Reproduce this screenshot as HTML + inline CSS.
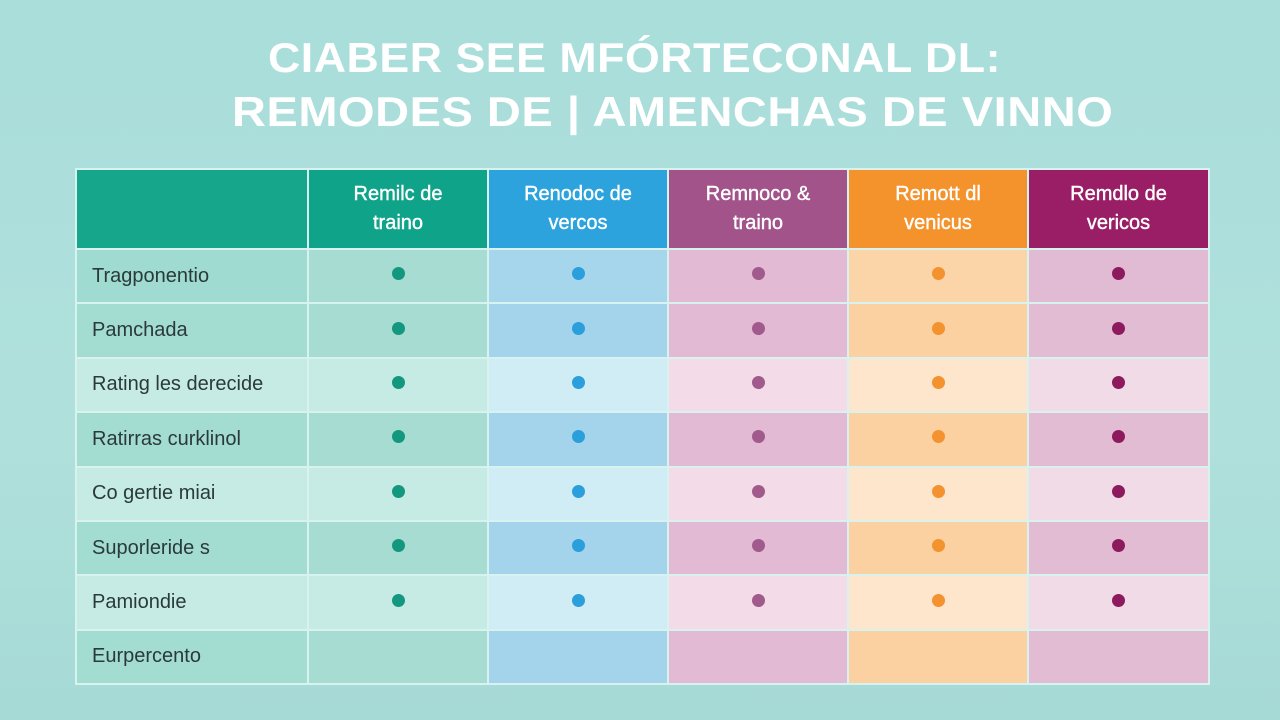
<!DOCTYPE html>
<html><head><meta charset="utf-8"><style>
body{margin:0;width:1280px;height:720px;overflow:hidden;background:linear-gradient(180deg,#a9dedb,#b0e0dc 60%,#a6dad6);font-family:"Liberation Sans",sans-serif;position:relative}
.t{position:absolute;color:#fff;font-weight:bold;font-size:42px;white-space:nowrap;letter-spacing:0.5px;transform-origin:left top}
table{position:absolute;left:75px;top:168px;border-collapse:collapse;table-layout:fixed;width:1133px}
td{border:2px solid #d8f2ef;padding:0;text-align:center;height:52.4px}
th{border:2px solid #d8f2ef;color:#fff;font-size:20px;line-height:29px;height:76px;font-weight:normal;-webkit-text-stroke:0.4px #fff}
td.l{text-align:left;padding-left:15px;font-size:20px;color:#2a3a3a}
.d{display:inline-block;width:13px;height:13px;border-radius:50%}
</style></head><body>
<div class="t" style="left:268px;top:34px;transform:scaleX(1.064)">CIABER SEE MFÓRTECONAL DL:</div>
<div class="t" style="left:232px;top:88px;transform:scaleX(1.118)">REMODES DE | AMENCHAS DE VINNO</div>
<table>
<colgroup><col style="width:232px"><col style="width:180px"><col style="width:180px"><col style="width:180px"><col style="width:180px"><col style="width:181px"></colgroup>
<tr><th style="background:#16a68c"></th>
<th style="background:#0fa38a">Remilc de<br>traino</th>
<th style="background:#2ca3dd">Renodoc de<br>vercos</th>
<th style="background:#a2538a">Remnoco &amp;<br>traino</th>
<th style="background:#f4922c">Remott dl<br>venicus</th>
<th style="background:#9a1e66">Remdlo de<br>vericos</th></tr>
<tr><td class="l" style="background:#9fdbd0">Tragponentio</td><td style="background:#a6dcd2"><span class="d" style="background:#13987f"></span></td><td style="background:#a6d6ec"><span class="d" style="background:#2b9fdc"></span></td><td style="background:#e2bad4"><span class="d" style="background:#a05a8c"></span></td><td style="background:#fbd5a8"><span class="d" style="background:#f3922e"></span></td><td style="background:#e1bbd3"><span class="d" style="background:#8e1a5e"></span></td></tr>
<tr><td class="l" style="background:#a3dcd1">Pamchada</td><td style="background:#a6dcd2"><span class="d" style="background:#13987f"></span></td><td style="background:#a4d4eb"><span class="d" style="background:#2b9fdc"></span></td><td style="background:#e2bad4"><span class="d" style="background:#a05a8c"></span></td><td style="background:#fbd1a2"><span class="d" style="background:#f3922e"></span></td><td style="background:#e2bcd3"><span class="d" style="background:#8e1a5e"></span></td></tr>
<tr><td class="l" style="background:#c6ebe5">Rating les derecide</td><td style="background:#c6ebe4"><span class="d" style="background:#13987f"></span></td><td style="background:#d0ecf5"><span class="d" style="background:#2b9fdc"></span></td><td style="background:#f3dbe8"><span class="d" style="background:#a05a8c"></span></td><td style="background:#fde6cc"><span class="d" style="background:#f3922e"></span></td><td style="background:#f1dbe7"><span class="d" style="background:#8e1a5e"></span></td></tr>
<tr><td class="l" style="background:#a3dcd1">Ratirras curklinol</td><td style="background:#a6dcd2"><span class="d" style="background:#13987f"></span></td><td style="background:#a4d4eb"><span class="d" style="background:#2b9fdc"></span></td><td style="background:#e2bad4"><span class="d" style="background:#a05a8c"></span></td><td style="background:#fbd1a2"><span class="d" style="background:#f3922e"></span></td><td style="background:#e2bcd3"><span class="d" style="background:#8e1a5e"></span></td></tr>
<tr><td class="l" style="background:#c6ebe5">Co gertie miai</td><td style="background:#c6ebe4"><span class="d" style="background:#13987f"></span></td><td style="background:#d0ecf5"><span class="d" style="background:#2b9fdc"></span></td><td style="background:#f3dbe8"><span class="d" style="background:#a05a8c"></span></td><td style="background:#fde6cc"><span class="d" style="background:#f3922e"></span></td><td style="background:#f1dbe7"><span class="d" style="background:#8e1a5e"></span></td></tr>
<tr><td class="l" style="background:#a3dcd1">Suporleride s</td><td style="background:#a6dcd2"><span class="d" style="background:#13987f"></span></td><td style="background:#a4d4eb"><span class="d" style="background:#2b9fdc"></span></td><td style="background:#e2bad4"><span class="d" style="background:#a05a8c"></span></td><td style="background:#fbd1a2"><span class="d" style="background:#f3922e"></span></td><td style="background:#e2bcd3"><span class="d" style="background:#8e1a5e"></span></td></tr>
<tr><td class="l" style="background:#c6ebe5">Pamiondie</td><td style="background:#c6ebe4"><span class="d" style="background:#13987f"></span></td><td style="background:#d0ecf5"><span class="d" style="background:#2b9fdc"></span></td><td style="background:#f3dbe8"><span class="d" style="background:#a05a8c"></span></td><td style="background:#fde6cc"><span class="d" style="background:#f3922e"></span></td><td style="background:#f1dbe7"><span class="d" style="background:#8e1a5e"></span></td></tr>
<tr><td class="l" style="background:#a3dcd1">Eurpercento</td><td style="background:#a6dcd2"></td><td style="background:#a4d4eb"></td><td style="background:#e2bad4"></td><td style="background:#fbd1a2"></td><td style="background:#e2bcd3"></td></tr>
</table>
</body></html>
